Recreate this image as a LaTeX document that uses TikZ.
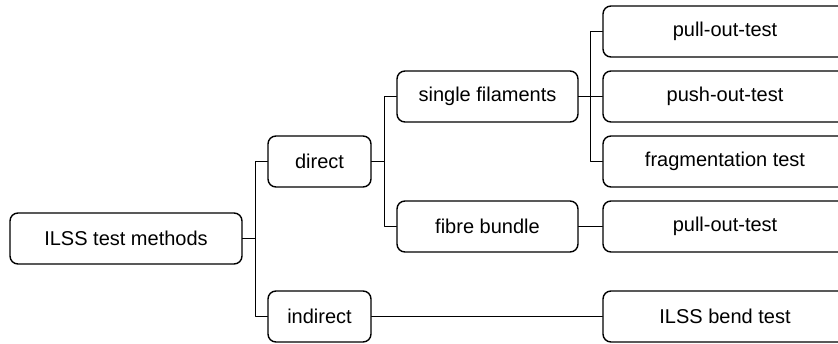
\documentclass[tikz,border=0pt]{standalone}
\usepackage{fontspec}
\setmainfont{Liberation Sans}
\begin{document}
\begin{tikzpicture}[line join=round, line cap=round, x=1pt, y=-1pt, line width=1.4pt]
\tikzset{box/.style={draw, rounded corners=8pt, minimum height=51pt, inner sep=0pt, font=\fontsize{20}{24}\selectfont}}
\useasboundingbox (0,0) rectangle (838,344);
% tree of test methods
\node[box, minimum width=232pt] (ilss) at (126,238.5) {ILSS test methods};
\node[box, minimum width=103pt] (direct) at (319.5,161.5) {direct};
\node[box, minimum width=103pt] (indirect) at (319.5,316.5) {indirect};
\node[box, minimum width=181pt] (single) at (487.5,96.5) {single filaments};
\node[box, minimum width=181pt] (bundle) at (487.5,226.5) {fibre bundle};
\node[box, minimum width=244pt] (pullA) at (725,31.5) {pull-out-test};
\node[box, minimum width=244pt] (push) at (725,96.5) {push-out-test};
\node[box, minimum width=244pt] (frag) at (725,161.5) {fragmentation test};
\node[box, minimum width=244pt] (pullB) at (725,226.5) {pull-out-test};
\node[box, minimum width=244pt] (bend) at (725,316.5) {ILSS bend test};
% connectors
\draw (ilss.east) -- ++(13,0) |- (direct.west);
\draw (ilss.east) -- ++(13,0) |- (indirect.west);
\draw (direct.east) -- ++(13,0) |- (single.west);
\draw (direct.east) -- ++(13,0) |- (bundle.west);
\draw (single.east) -- ++(12,0) |- (pullA.west);
\draw (single.east) -- (push.west);
\draw (single.east) -- ++(12,0) |- (frag.west);
\draw (bundle.east) -- (pullB.west);
\draw (indirect.east) -- (bend.west);
\end{tikzpicture}
\end{document}
